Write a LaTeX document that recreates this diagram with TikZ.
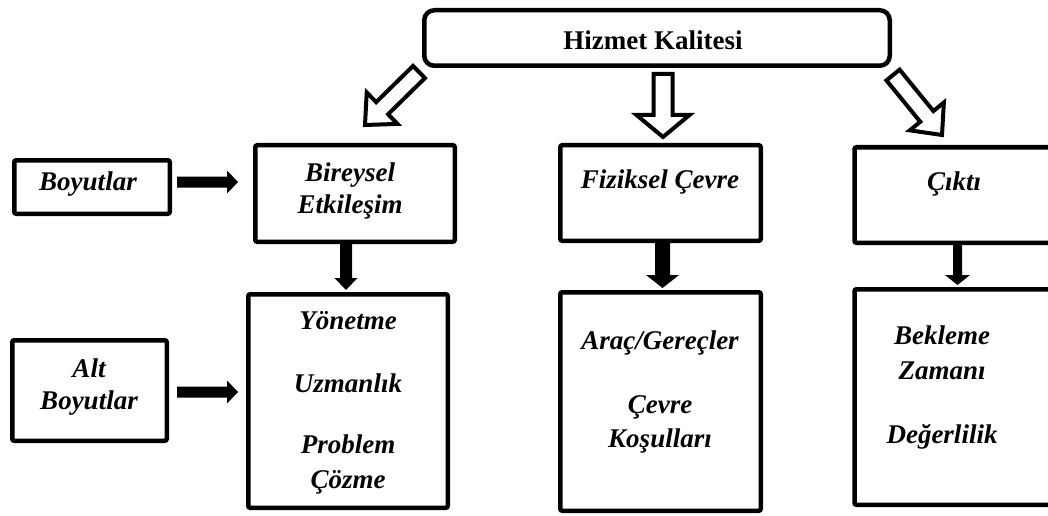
\documentclass[tikz,border=0pt]{standalone}
\usepackage{fontspec}
\setmainfont{Liberation Serif}
\usetikzlibrary{calc}

% Block arrow drawn as a polygon from coordinate #2 to coordinate #3:
% #1 style, #4 half shaft width, #5 half head width, #6 head length
\newcommand\blockarrow[6]{%
  \coordinate (ba-base) at ($(#3)!#6!(#2)$);
  \path[#1] ($(#2)!#4!90:(#3)$) -- ($(ba-base)!#4!-90:(#2)$)
    -- ($(ba-base)!#5!-90:(#2)$) -- (#3) -- ($(ba-base)!#5!90:(#2)$)
    -- ($(ba-base)!#4!90:(#2)$) -- ($(#2)!#4!-90:(#3)$) -- cycle;
}

\tikzset{
  box/.style={draw, line width=4.5pt, rounded corners=2pt, fill=white, inner sep=0pt},
  topbox/.style={box, rounded corners=10pt},
  lbl/.style={anchor=base, inner sep=0pt, font=\fontsize{27}{30}\selectfont\bfseries\itshape},
  title/.style={anchor=base, inner sep=0pt, font=\fontsize{27}{30}\selectfont\bfseries},
  hollow/.style={draw, fill=white, line width=4pt, miter limit=10},
  solid/.style={fill=black, draw=none},
}

\begin{document}
\begin{tikzpicture}[x=1pt, y=1pt]
  \useasboundingbox (0,0) rectangle (1048,515);
  \fill[white] (0,0) rectangle (1048,515);
  \clip (0,0) rectangle (1048,515);

  % boxes
  \node[topbox, minimum width=465.5pt, minimum height=55.5pt] (top) at (657,477) {};
  \node[box, minimum width=155.5pt, minimum height=53.5pt]  (boy) at (92,328) {};
  \node[box, minimum width=154.5pt, minimum height=100.5pt] (alt) at (89.5,124.5) {};
  \node[box, minimum width=199.5pt, minimum height=96.5pt]  (bir) at (355,321.5) {};
  \node[box, minimum width=199.5pt, minimum height=213.5pt] (yon) at (348,114) {};
  \node[box, minimum width=200.5pt, minimum height=95.5pt]  (fiz) at (660.5,322) {};
  \node[box, minimum width=200.5pt, minimum height=218.5pt] (arc) at (660.5,113.5) {};
  \node[box, minimum width=199pt, minimum height=95.5pt]    (cik) at (954,320) {};
  \node[box, minimum width=199pt, minimum height=215.5pt]   (bek) at (954,118) {};

  % texts
  \node[title] (t-top) at (653,465) {Hizmet Kalitesi};
  \node[lbl] (t-boy) at (88,324.3) {Boyutlar};
  \node[lbl] (t-alt1) at (89,138) {Alt};
  \node[lbl] (t-alt2) at (89,106) {Boyutlar};
  \node[lbl] (t-bir1) at (350,334) {Bireysel};
  \node[lbl] (t-bir2) at (350,302) {Etkileşim};
  \node[lbl] (t-yon1) at (348,186) {Yönetme};
  \node[lbl] (t-yon2) at (348,123) {Uzmanlık};
  \node[lbl] (t-yon3) at (348,62) {Problem};
  \node[lbl] (t-yon4) at (348,27) {Çözme};
  \node[lbl] (t-fiz) at (660,327) {Fiziksel Çevre};
  \node[lbl] (t-arc1) at (660,166) {Araç/Gereçler};
  \node[lbl] (t-arc2) at (660,102) {Çevre};
  \node[lbl] (t-arc3) at (660,68) {Koşulları};
  \node[lbl] (t-cik) at (954,325) {Çıktı};
  \node[lbl] (t-bek1) at (942,171) {Bekleme};
  \node[lbl] (t-bek2) at (942,136) {Zamanı};
  \node[lbl] (t-bek3) at (942,72) {Değerlilik};

  % hollow arrows from the title box
  \coordinate (h1s) at ($(top.south west)+(-3,-4)$);
  \coordinate (h1e) at ($(bir.north)+(10,18)$);
  \coordinate (h2s) at ($(top.south)+(6,-6)$);
  \coordinate (h2e) at ($(fiz.north)+(2.5,6)$);
  \coordinate (h3s) at ($(top.south east)+(1,-7)$);
  \coordinate (h3e) at ($(cik.north)+(-12,10)$);
  \blockarrow{hollow}{h1s}{h1e}{8.5pt}{22pt}{24pt}
  \blockarrow{hollow}{h2s}{h2e}{9.5pt}{26.5pt}{22pt}
  \blockarrow{hollow}{h3s}{h3e}{8.5pt}{22pt}{24pt}

  % solid arrows
  \coordinate (a1s) at ($(boy.east)+(5,5)$);
  \coordinate (a1e) at ($(bir.west |- a1s)+(-15,0)$);
  \coordinate (a2s) at ($(alt.east)+(8,-1.5)$);
  \coordinate (a2e) at ($(yon.west |- a2s)+(-8,0)$);
  \coordinate (a3s) at ($(bir.south)+(-9,0)$);
  \coordinate (a3e) at ($(yon.north)+(-2,2)$);
  \coordinate (a4s) at ($(fiz.south)+(2,0)$);
  \coordinate (a4e) at ($(arc.north)+(2,2)$);
  \coordinate (a5s) at ($(cik.south)+(3.5,0)$);
  \coordinate (a5e) at ($(bek.north)+(3.5,2)$);
  \blockarrow{solid}{a1s}{a1e}{5.5pt}{11.5pt}{11pt}
  \blockarrow{solid}{a2s}{a2e}{5.5pt}{11.5pt}{11pt}
  \blockarrow{solid}{a3s}{a3e}{6pt}{11.5pt}{12pt}
  \blockarrow{solid}{a4s}{a4e}{7.5pt}{16.5pt}{13pt}
  \blockarrow{solid}{a5s}{a5e}{4.5pt}{12.5pt}{10pt}
\end{tikzpicture}
\end{document}
